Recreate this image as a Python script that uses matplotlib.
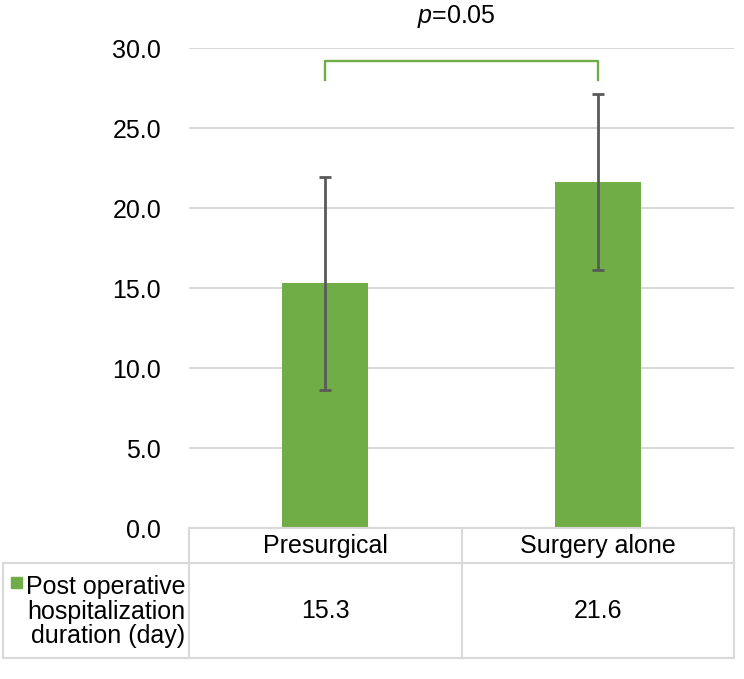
import matplotlib
matplotlib.use("Agg")
import matplotlib.pyplot as plt
from matplotlib.lines import Line2D
from matplotlib.patches import Rectangle

plt.rcParams['font.family'] = ['Liberation Sans', 'DejaVu Sans']
plt.rcParams['mathtext.fontset'] = 'custom'
plt.rcParams['mathtext.rm'] = 'Liberation Sans'
plt.rcParams['mathtext.it'] = 'Liberation Sans:italic'

categories = ["Presurgical", "Surgery alone"]
series_name = "Post operative\nhospitalization\nduration (day)"
values = [15.3, 21.6]
errors = [6.65, 5.5]
yticks = [0, 5, 10, 15, 20, 25, 30]
p_label = "$\\it{p}$=0.05"
bracket_y = 29.2
bracket_leg = 28.0

GREEN = "#70AD47"
GRID = "#D9D9D9"
ERR = "#595959"
FS = 18

W, H = 744, 679
fig = plt.figure(figsize=(W / 100, H / 100), dpi=100)

def fx(px):
    return px / W

def fy(py):
    return 1 - py / H

left, right, top, bottom = 189, 734, 48, 528
ax = fig.add_axes([fx(left), fy(bottom), fx(right) - fx(left), fy(top) - fy(bottom)])
ax.set_xlim(-0.5, len(categories) - 0.5)
ax.set_ylim(0, 30)
ax.set_yticks(yticks)
ax.set_yticklabels([f"{t:.1f}" for t in yticks], fontsize=FS)
ax.tick_params(axis='y', length=0, pad=20)
ax.set_xticks([])
for s in ax.spines.values():
    s.set_visible(False)
ax.grid(axis='y', color=GRID, linewidth=1.5)
ax.set_axisbelow(True)

x = list(range(len(categories)))
ax.bar(x, values, width=0.315, color=GREEN, zorder=2)
ax.errorbar(x, values, yerr=errors, fmt='none', ecolor=ERR, elinewidth=2.0,
            capsize=4.5, capthick=2.0, zorder=3)

# significance bracket
ax.plot([x[0], x[0], x[1], x[1]], [bracket_leg, bracket_y, bracket_y, bracket_leg],
        color=GREEN, linewidth=1.7, clip_on=False, zorder=3)
ax.text((x[0] + x[1]) / 2 - 0.02, 32.0, p_label, ha='center', va='center',
        fontsize=FS, clip_on=False)

# data table
def hline(x0, x1, y):
    fig.add_artist(Line2D([fx(x0), fx(x1)], [fy(y), fy(y)], color=GRID, linewidth=1.5))

def vline(xp, y0, y1):
    fig.add_artist(Line2D([fx(xp), fx(xp)], [fy(y0), fy(y1)], color=GRID, linewidth=1.5))

t_top, t_mid, t_bot = 528, 563, 658
t_left = 3
col_edges = [189, 462, 734]
hline(col_edges[0], col_edges[-1], t_top)
hline(t_left, col_edges[-1], t_mid)
hline(t_left, col_edges[-1], t_bot)
vline(t_left, t_mid, t_bot)
for c in col_edges:
    vline(c, t_top, t_bot)

for i, cat in enumerate(categories):
    cx = (col_edges[i] + col_edges[i + 1]) / 2
    fig.text(fx(cx), fy((t_top + t_mid) / 2), cat, ha='center', va='center', fontsize=FS)
    fig.text(fx(cx), fy((t_mid + t_bot) / 2), f"{values[i]:.1f}", ha='center', va='center', fontsize=FS)

fig.text(fx(185), fy((t_mid + t_bot) / 2 + 1), series_name, ha='right', va='center',
         fontsize=FS, linespacing=1.05)
fig.add_artist(Rectangle((fx(11), fy(588)), fx(11), 11 / H, color=GREEN,
                         transform=fig.transFigure))

fig.savefig("out.png", dpi=100)
